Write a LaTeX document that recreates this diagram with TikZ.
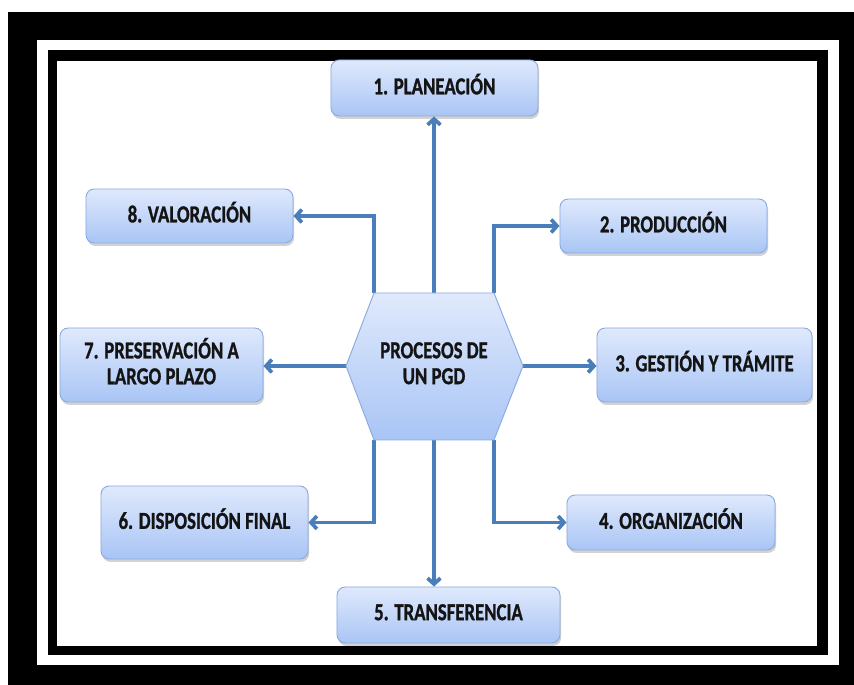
\documentclass[tikz,border=0pt]{standalone}
\usepackage{fontspec}
\setmainfont{Carlito}[BoldFeatures={FakeBold=1.2}]
\usepackage{graphicx}
\usepackage{tikz}
\usetikzlibrary{arrows.meta,shadows,positioning,calc}
\definecolor{flujo}{HTML}{4A7EBB}
\definecolor{cajaarriba}{HTML}{DFE9FC}
\definecolor{cajaabajo}{HTML}{A9C5F5}
\definecolor{cajaborde}{HTML}{8AAAE0}
\definecolor{letra}{HTML}{141414}
\newcommand{\rotulo}[1]{\raisebox{-1.5pt}{\scalebox{1}[1.3]{\begin{tabular}{@{}c@{}}#1\end{tabular}}}}

\begin{document}
\begin{tikzpicture}[x=0.03cm,y=-0.03cm,
  caja/.style={draw=cajaborde, line width=0.8pt, rounded corners=7pt,
    top color=cajaarriba, bottom color=cajaabajo,
    drop shadow={shadow xshift=1pt, shadow yshift=-2.5pt, opacity=0.35},
    font=\fontsize{16}{17}\selectfont\bfseries, text=letra, align=center, inner sep=0pt},
  hexa/.style={draw=cajaborde, line width=0.8pt, top color=cajaarriba, bottom color=cajaabajo},
  flecha/.style={draw=flujo, line width=3.2pt, -{Straight Barb[length=5pt,width=11pt]}}]
\useasboundingbox (0,0) rectangle (854,685);
% marco
\fill[white] (0,0) rectangle (854,685);
\fill[black] (8,12) rectangle (854,685);
\fill[white] (37,40) rectangle (839,665);
\fill[black] (48,50) rectangle (828,655);
\fill[white] (57,61) rectangle (817,646);

% etapas
\node[caja, minimum width=6.21cm, minimum height=1.68cm] (planeacion) at (434.5,88) {\rotulo{1. PLANEACIÓN}};
\node[caja, minimum width=6.21cm, minimum height=1.62cm] (valoracion) at (189.5,216) {\rotulo{8. VALORACIÓN}};
\node[caja, minimum width=6.21cm, minimum height=1.62cm] (produccion) at (663.5,226) {\rotulo{2. PRODUCCIÓN}};
\node[caja, minimum width=6.09cm, minimum height=2.22cm] (preservacion) at (161.5,365) {\rotulo{7. PRESERVACIÓN A\\LARGO PLAZO}};
\node[caja, minimum width=6.45cm, minimum height=2.22cm] (gestion) at (704.5,365) {\rotulo{3. GESTIÓN Y TRÁMITE}};
\node[caja, minimum width=6.21cm, minimum height=2.19cm] (disposicion) at (204.5,522.5) {\rotulo{6. DISPOSICIÓN FINAL}};
\node[caja, minimum width=6.24cm, minimum height=1.65cm] (organizacion) at (671,522.5) {\rotulo{4. ORGANIZACIÓN}};
\node[caja, minimum width=6.69cm, minimum height=1.68cm] (transferencia) at (448.5,615) {\rotulo{5. TRANSFERENCIA}};

% hexagono central
\coordinate (hA) at (374,293);
\coordinate (hB) at (494,293);
\coordinate (hC) at (523,366);
\coordinate (hD) at (494,440);
\coordinate (hE) at (374,440);
\coordinate (hF) at (346,366);
\coordinate (pgd) at (434,366);

\draw[flecha] (pgd |- hA) -- (pgd |- planeacion.south);
\draw[flecha] (hA) |- (valoracion.east);
\draw[flecha] (hB) |- (produccion.west);
\draw[flecha] (hF) -- (hF -| preservacion.east);
\draw[flecha] (hC) -- (hC -| gestion.west);
\draw[flecha] (hE) |- (disposicion.east);
\draw[flecha] (hD) |- (organizacion.west);
\draw[flecha] (pgd |- hE) -- (pgd |- transferencia.north);

\draw[hexa] (hA) -- (hB) -- (hC) -- (hD) -- (hE) -- (hF) -- cycle;
\node[font=\fontsize{16}{17}\selectfont\bfseries, text=letra, align=center] (procesos) at (pgd) {\rotulo{PROCESOS DE\\UN PGD}};
\end{tikzpicture}
\end{document}
